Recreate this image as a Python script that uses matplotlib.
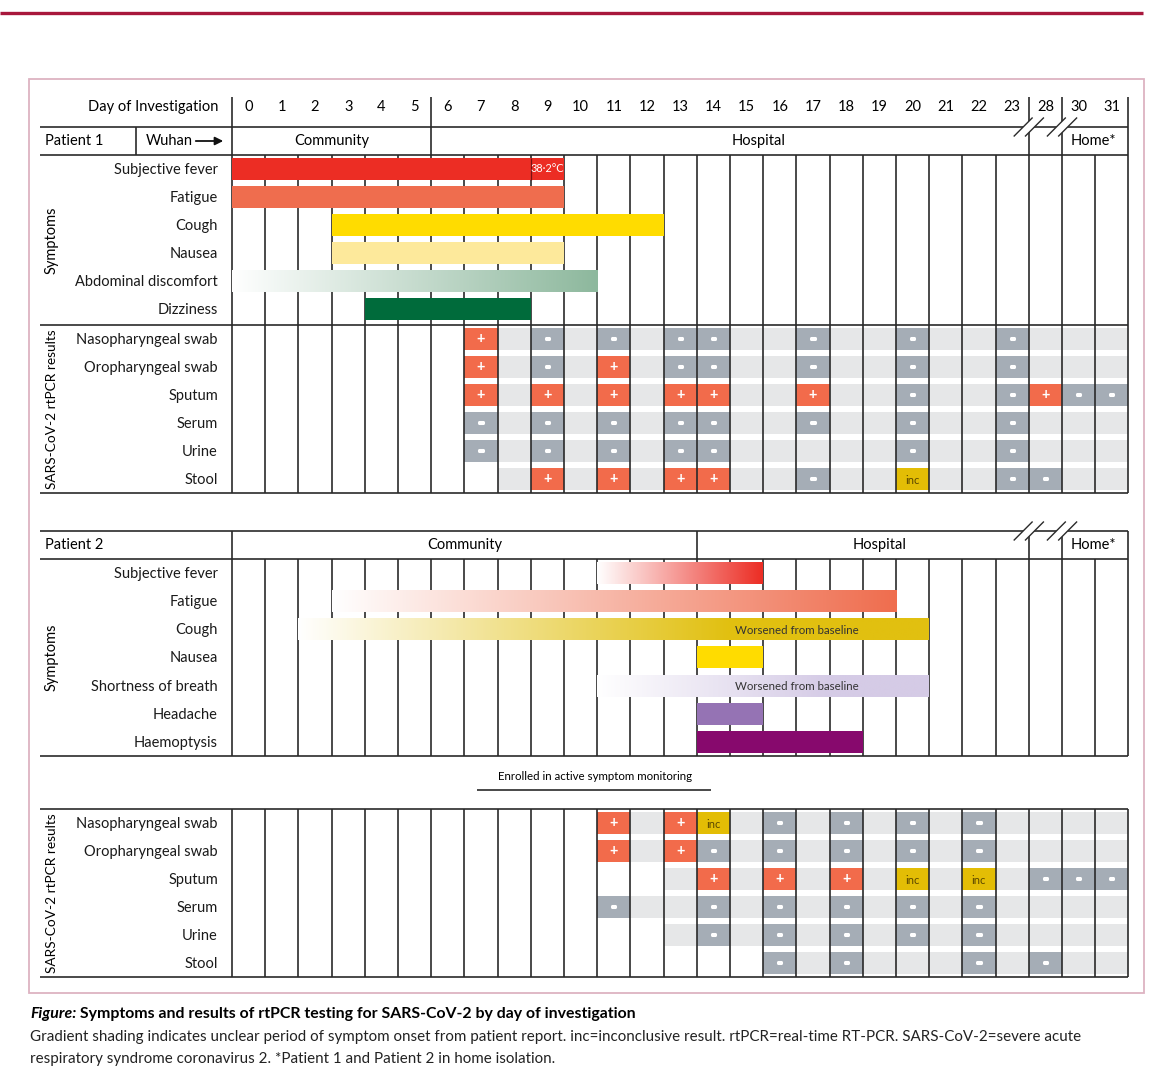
import numpy as np
import matplotlib.pyplot as plt
import matplotlib.patheffects as pe
from matplotlib.colors import to_rgb
from matplotlib.patches import Rectangle, Polygon

plt.rcParams['font.family'] = ['Lato', 'DejaVu Sans']

# day columns (axis is broken between 23 and 28)
days = list(range(24)) + [28, 30, 31]

# patient 1 symptoms, first and last day (inclusive)
p1_symptoms = ['Subjective fever', 'Fatigue', 'Cough', 'Nausea', 'Abdominal discomfort', 'Dizziness']
p1_start = [0, 0, 3, 3, 0, 4]
p1_end = [9, 9, 12, 9, 10, 8]
p1_fade_to = [None, None, None, None, 11, None]   # gradient = unclear onset
p1_colors = ['#ec2d24', '#ef6d4e', '#ffdc00', '#fde99b', '#8db89d', '#006b3b']

# patient 2 symptoms
p2_symptoms = ['Subjective fever', 'Fatigue', 'Cough', 'Nausea', 'Shortness of breath', 'Headache', 'Haemoptysis']
p2_start = [11, 3, 2, 14, 11, 14, 14]
p2_end = [15, 19, 20, 15, 20, 15, 18]
p2_fade_to = [16, 20, 15, None, 18, None, None]
p2_colors = ['#ec2d24', '#ef6d4e', '#e1c010', '#ffdc00', '#d5cbe6', '#9573b4', '#87096d']
p2_notes = [None, None, 'Worsened from baseline', None, 'Worsened from baseline', None, None]

specimens = ['Nasopharyngeal swab', 'Oropharyngeal swab', 'Sputum', 'Serum', 'Urine', 'Stool']

# rtPCR results per specimen {day: result}
p1_results = [
    {7: '+', 9: '-', 11: '-', 13: '-', 14: '-', 17: '-', 20: '-', 23: '-'},
    {7: '+', 9: '-', 11: '+', 13: '-', 14: '-', 17: '-', 20: '-', 23: '-'},
    {7: '+', 9: '+', 11: '+', 13: '+', 14: '+', 17: '+', 20: '-', 23: '-', 28: '+', 30: '-', 31: '-'},
    {7: '-', 9: '-', 11: '-', 13: '-', 14: '-', 17: '-', 20: '-', 23: '-'},
    {7: '-', 9: '-', 11: '-', 13: '-', 14: '-', 20: '-', 23: '-'},
    {9: '+', 11: '+', 13: '+', 14: '+', 17: '-', 20: 'inc', 23: '-', 28: '-'},
]
p1_first_day = [7, 7, 7, 7, 7, 8]

p2_results = [
    {11: '+', 13: '+', 14: 'inc', 16: '-', 18: '-', 20: '-', 22: '-'},
    {11: '+', 13: '+', 14: '-', 16: '-', 18: '-', 20: '-', 22: '-'},
    {14: '+', 16: '+', 18: '+', 20: 'inc', 22: 'inc', 28: '-', 30: '-', 31: '-'},
    {11: '-', 14: '-', 16: '-', 18: '-', 20: '-', 22: '-'},
    {14: '-', 16: '-', 18: '-', 20: '-', 22: '-'},
    {16: '-', 18: '-', 22: '-', 28: '-'},
]
p2_first_day = [11, 11, 13, 11, 13, 16]

result_colors = {'+': '#f26b4b', '-': '#a5adb6', 'inc': '#e3bd05'}
result_text = {'+': '#ffffff', '-': '#ffffff', 'inc': '#5a4700'}
BAND = '#e6e7e8'
LINE = '#2a2a2a'

# layout (figure pixels; x converted to day columns)
CW, X0 = 33.2, 232
NCOL = len(days)
BH = 22


def px(v):
    return (v - X0) / CW


def col(day):
    return days.index(day)


fig = plt.figure(figsize=(11.64, 10.79), dpi=100)
ax = fig.add_axes([0, 0, 1, 1])
ax.set_xlim(px(0), px(1164))
ax.set_ylim(1079, 0)
ax.axis('off')

FS = 10.5


def symptom_bars(rows_y, starts, ends, fades, colors, notes):
    for i in range(len(starts)):
        x0, x1 = col(starts[i]), col(ends[i]) + 1
        y = rows_y[i]
        rgb = np.array(to_rgb(colors[i]))
        if fades[i] is None:
            ax.add_patch(Rectangle((x0, y - BH / 2), x1 - x0, BH, fc=colors[i], ec='none', zorder=3))
        else:
            xs = np.linspace(x0, x1, 400)
            t = np.clip((xs - x0) / (fades[i] - x0), 0, 1)[:, None]
            img = (1 - t) + t * rgb
            ax.imshow(img[None], extent=(x0, x1, y + BH / 2, y - BH / 2), aspect='auto',
                      interpolation='bilinear', zorder=3)
        if notes and notes[i]:
            ax.text(17, y + 1, notes[i], ha='center', va='center', fontsize=8.3, color='#333333', zorder=5)


def pcr_rows(rows_y, results, first_day):
    for i, res in enumerate(results):
        y = rows_y[i]
        x0 = col(first_day[i])
        ax.add_patch(Rectangle((x0, y - BH / 2), NCOL - x0, BH, fc=BAND, ec='none', zorder=2))
        for d, r in res.items():
            c = col(d)
            ax.add_patch(Rectangle((c, y - BH / 2), 1, BH, fc=result_colors[r], ec='none', zorder=3))
            if r == 'inc':
                ax.text(c + 0.5, y + 1, 'inc', ha='center', va='center', fontsize=8,
                        color=result_text[r], zorder=5)
            elif r == '-':
                ax.text(c + 0.5, y - 0.5, r, ha='center', va='center', fontsize=9, fontweight='bold',
                        color='white', zorder=5,
                        path_effects=[pe.withStroke(linewidth=2.2, foreground='white')])
            else:
                ax.text(c + 0.5, y, r, ha='center', va='center', fontsize=10.5, fontweight='bold',
                        color=result_text[r], zorder=5)


def row_labels(rows_y, labels):
    for y, lab in zip(rows_y, labels):
        ax.text(px(218), y + 1, lab, ha='right', va='center', fontsize=FS, color='#1a1a1a')


def breaks(y):
    # "//" marks where the day axis jumps
    for xc in (col(28), col(30)):
        dx, dy, g = 0.27, 9, 0.17
        a = [(xc - g - dx, y + dy), (xc - g + dx, y - dy)]
        b = [(xc + g - dx, y + dy), (xc + g + dx, y - dy)]
        ax.add_patch(Polygon([a[0], a[1], b[1], b[0]], closed=True, fc='white', ec='none', zorder=6))
        for seg in (a, b):
            ax.plot([seg[0][0], seg[1][0]], [seg[0][1], seg[1][1]], color=LINE, lw=1.0, zorder=7)


LEFT, RIGHT = px(40), NCOL
LW = 1.2

# ---------------- patient 1 ----------------
hdr_y, pat_y = 107, 141
s1_top, s1_rows = 155, [169 + 28 * i for i in range(6)]
r1_top, r1_rows = 325, [339 + 28 * i for i in range(6)]
r1_bot = 493

ax.text(px(218), hdr_y, 'Day of Investigation', ha='right', va='center', fontsize=FS)
for i, d in enumerate(days):
    ax.text(i + 0.5, hdr_y, str(d), ha='center', va='center', fontsize=FS)
ax.vlines([0, 6, NCOL], 97, s1_top, color=LINE, lw=LW, zorder=4)
ax.vlines([col(28), col(30)], 97, s1_top, color=LINE, lw=LW, zorder=4)
ax.vlines(px(136), 127, s1_top, color=LINE, lw=LW, zorder=4)
ax.hlines([127, s1_top, r1_top, r1_bot], LEFT, RIGHT, color=LINE, lw=LW, zorder=4)
ax.text(px(45), pat_y, 'Patient 1', ha='left', va='center', fontsize=FS)
ax.text(px(146), pat_y, 'Wuhan', ha='left', va='center', fontsize=FS)
ax.annotate('', xy=(px(226), pat_y), xytext=(px(193), pat_y),
            arrowprops=dict(arrowstyle='-|>', color='#111111', lw=1.3, mutation_scale=12))
ax.text(3, pat_y, 'Community', ha='center', va='center', fontsize=FS)
ax.text(px(759), pat_y, 'Hospital', ha='center', va='center', fontsize=FS)
ax.text(25.95, pat_y, 'Home*', ha='center', va='center', fontsize=FS)
breaks(127)

ax.vlines(range(NCOL + 1), s1_top, r1_top, color=LINE, lw=LW, zorder=2)
ax.vlines(range(NCOL + 1), r1_top, r1_bot, color=LINE, lw=LW, zorder=4)
symptom_bars(s1_rows, p1_start, p1_end, p1_fade_to, p1_colors, None)
# fever measured on day 9
ax.vlines(col(9), s1_rows[0] - BH / 2, s1_rows[0] + BH / 2, color='#7a1010', lw=0.9, zorder=4)
ax.text(col(9) + 0.5, s1_rows[0], '38·2°C', ha='center', va='center', fontsize=7.8,
        color='white', zorder=5)
pcr_rows(r1_rows, p1_results, p1_first_day)
row_labels(s1_rows, p1_symptoms)
row_labels(r1_rows, specimens)
ax.text(px(52), (s1_top + r1_top) / 2, 'Symptoms', rotation=90, ha='center', va='center', fontsize=FS)
ax.text(px(52), (r1_top + r1_bot) / 2, 'SARS-CoV-2 rtPCR results', rotation=90,
        ha='center', va='center', fontsize=9.8)

# ---------------- patient 2 ----------------
p2_top, p2_y = 531, 545
s2_top = 559
s2_rows = [573 + 28.15 * i for i in range(7)]
s2_bot = 756
r2_top, r2_rows = 809, [823 + 28 * i for i in range(6)]
r2_bot = 977

ax.hlines([p2_top, s2_top, s2_bot, r2_top, r2_bot], LEFT, RIGHT, color=LINE, lw=LW, zorder=4)
ax.vlines([0, 14, col(28), col(30), NCOL], p2_top, s2_top, color=LINE, lw=LW, zorder=4)
ax.text(px(45), p2_y, 'Patient 2', ha='left', va='center', fontsize=FS)
ax.text(7, p2_y, 'Community', ha='center', va='center', fontsize=FS)
ax.text(19.5, p2_y, 'Hospital', ha='center', va='center', fontsize=FS)
ax.text(25.95, p2_y, 'Home*', ha='center', va='center', fontsize=FS)
breaks(p2_top)

ax.vlines(range(NCOL + 1), s2_top, s2_bot, color=LINE, lw=LW, zorder=2)
ax.vlines(range(NCOL + 1), r2_top, r2_bot, color=LINE, lw=LW, zorder=4)
symptom_bars(s2_rows, p2_start, p2_end, p2_fade_to, p2_colors, p2_notes)
pcr_rows(r2_rows, p2_results, p2_first_day)
row_labels(s2_rows, p2_symptoms)
row_labels(r2_rows, specimens)
ax.text(px(52), (s2_top + s2_bot) / 2, 'Symptoms', rotation=90, ha='center', va='center', fontsize=FS)
ax.text(px(52), (r2_top + r2_bot) / 2, 'SARS-CoV-2 rtPCR results', rotation=90,
        ha='center', va='center', fontsize=9.8)

ax.text(px(595), 777, 'Enrolled in active symptom monitoring', ha='center', va='center', fontsize=8.3)
ax.hlines(790, px(477), px(711), color=LINE, lw=LW)

# frame and top rule
ax.add_patch(Rectangle((px(29), 79), px(1144) - px(29), 993 - 79, fc='none', ec='#ddb3c2', lw=1.3))
ax.hlines(13, px(0), px(1143), color='#a8173c', lw=2.4)

# caption
t1 = ax.text(px(30), 1014, 'Figure:', ha='left', va='center', fontsize=11.4,
             fontweight='bold', fontstyle='italic')
ax.annotate(' Symptoms and results of rtPCR testing for SARS-CoV-2 by day of investigation',
            xy=(1, 0), xycoords=t1, ha='left', va='bottom', fontsize=11.4, fontweight='bold')
ax.text(px(30), 1037, 'Gradient shading indicates unclear period of symptom onset from patient report. '
        'inc=inconclusive result. rtPCR=real-time RT-PCR. SARS-CoV-2=severe acute',
        ha='left', va='center', fontsize=10.9, color='#222222')
ax.text(px(30), 1059, 'respiratory syndrome coronavirus 2. *Patient 1 and Patient 2 in home isolation.',
        ha='left', va='center', fontsize=10.9, color='#222222')

fig.savefig('out.png', dpi=100)
